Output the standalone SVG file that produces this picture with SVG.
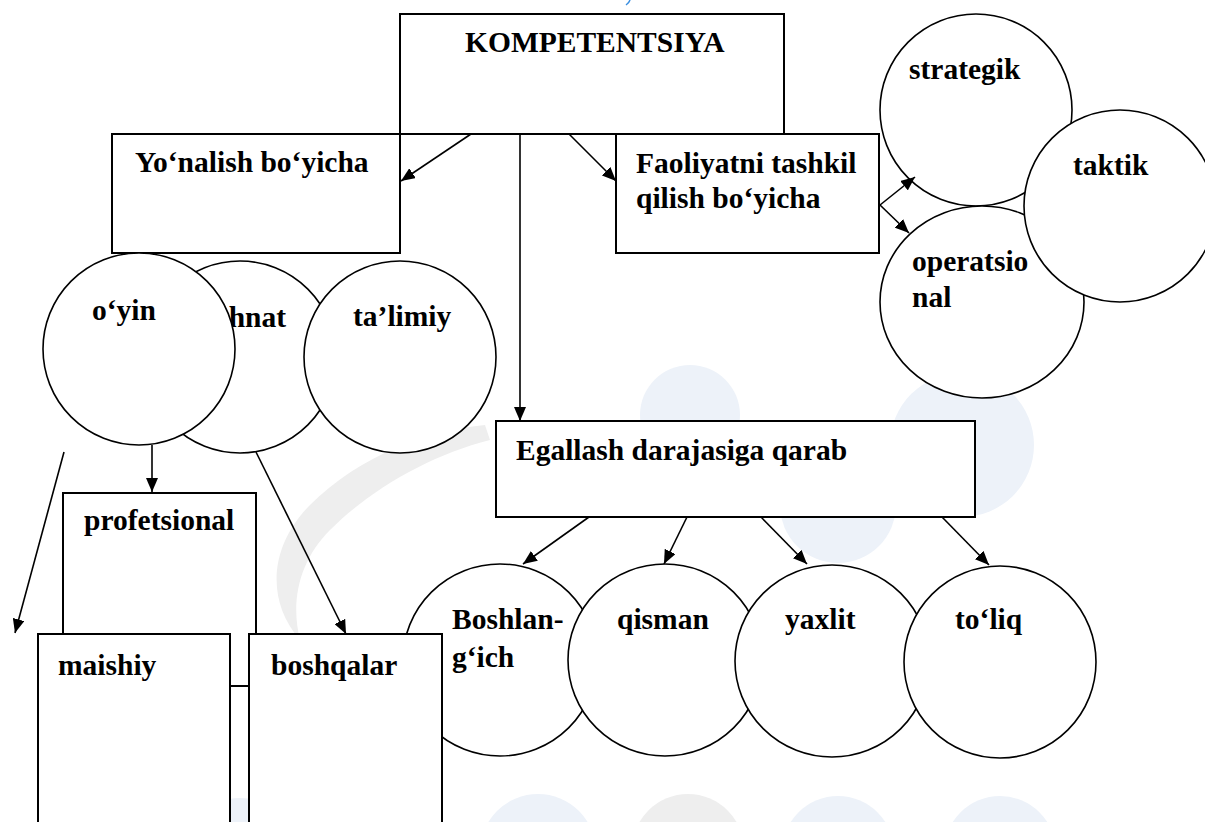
<svg xmlns="http://www.w3.org/2000/svg" width="1205" height="822" viewBox="0 0 1205 822">
<style>
.box{fill:#fff;stroke:#000;stroke-width:2}
.cir{fill:#fff;stroke:#000;stroke-width:1.6}
.t{font-family:"Liberation Serif","Times New Roman",serif;font-weight:bold;font-size:29.5px;fill:#000}
.ln{stroke:#000;stroke-width:1.6;fill:none}
.arr{stroke:#000;stroke-width:1.6;fill:none;marker-end:url(#ah)}
.wb{fill:#edf2f9}
.wg{fill:#eeeeee}
</style>
<defs>
<marker id="ah" markerUnits="userSpaceOnUse" markerWidth="14" markerHeight="12" refX="14" refY="6" orient="auto">
<path d="M0,0 L14,6 L0,12 z" fill="#000"/>
</marker>
</defs>
<rect width="1205" height="822" fill="#fff"/>
<g id="watermark">
<circle class="wb" cx="690" cy="415" r="50"/>
<circle class="wb" cx="962" cy="445" r="72"/>
<circle class="wb" cx="838" cy="505" r="58"/>
<path class="wg" d="M485,425 C430,430 360,455 310,505 C270,545 265,600 300,640 C290,600 300,560 330,530 C370,490 430,455 490,440 Z"/>
<circle class="wb" cx="538" cy="852" r="58"/>
<circle class="wg" cx="688" cy="850" r="56"/>
<circle class="wb" cx="838" cy="852" r="56"/>
<circle class="wb" cx="1000" cy="852" r="56"/>
<circle class="wb" cx="240" cy="858" r="60"/>
<path d="M630,0 Q629,3 626,5" stroke="#3a8ee0" stroke-width="1.5" fill="none"/>
</g>
<g id="kompetentsiya">
<rect class="box" x="400" y="14" width="384" height="120"/>
<text class="t" x="465" y="52">KOMPETENTSIYA</text>
</g>
<g id="yonalish">
<rect class="box" x="112" y="134" width="288" height="119"/>
<text class="t" x="135" y="172">Yo‘nalish bo‘yicha</text>
</g>
<g id="faoliyat">
<rect class="box" x="616" y="134" width="263" height="119"/>
<text class="t" x="636" y="173">Faoliyatni tashkil</text>
<text class="t" x="636" y="208">qilish bo‘yicha</text>
</g>
<g id="strategik">
<ellipse class="cir" cx="976" cy="110" rx="96" ry="96"/>
<text class="t" x="909" y="79">strategik</text>
</g>
<g id="operatsional">
<ellipse class="cir" cx="982" cy="302" rx="102" ry="96"/>
<text class="t" x="912" y="271">operatsio</text>
<text class="t" x="912" y="307">nal</text>
</g>
<g id="taktik">
<ellipse class="cir" cx="1120" cy="206" rx="96" ry="96"/>
<text class="t" x="1073" y="175">taktik</text>
</g>
<g id="mehnat">
<ellipse class="cir" cx="240" cy="357" rx="96" ry="96"/>
<text class="t" x="191" y="327">mehnat</text>
</g>
<g id="talimiy">
<ellipse class="cir" cx="400" cy="357" rx="96" ry="96"/>
<text class="t" x="353" y="326">ta’limiy</text>
</g>
<g id="oyin">
<ellipse class="cir" cx="139" cy="349" rx="96" ry="96"/>
<text class="t" x="92" y="320">o‘yin</text>
</g>
<g id="profetsional">
<rect class="box" x="63" y="493" width="193" height="193"/>
<text class="t" x="84" y="530">profetsional</text>
</g>
<g id="boshlangich">
<ellipse class="cir" cx="500" cy="660" rx="97" ry="96"/>
<text class="t" x="452" y="629">Boshlan-</text>
<text class="t" x="452" y="667">g‘ich</text>
</g>
<g id="qisman">
<ellipse class="cir" cx="665" cy="660" rx="97" ry="96"/>
<text class="t" x="617" y="629">qisman</text>
</g>
<g id="yaxlit">
<ellipse class="cir" cx="832" cy="661" rx="97" ry="96"/>
<text class="t" x="785" y="629">yaxlit</text>
</g>
<g id="toliq">
<ellipse class="cir" cx="1000" cy="662" rx="96" ry="96"/>
<text class="t" x="955" y="629">to‘liq</text>
</g>
<g id="maishiy">
<rect class="box" x="38" y="634" width="192" height="200"/>
<text class="t" x="58" y="675">maishiy</text>
</g>
<g id="boshqalar">
<rect class="box" x="249" y="634" width="193" height="200"/>
<text class="t" x="271" y="675">boshqalar</text>
</g>
<g id="egallash">
<rect class="box" x="496" y="421" width="479" height="96"/>
<text class="t" x="516" y="460">Egallash darajasiga qarab</text>
</g>
<g id="connectors">
<line class="arr" x1="471" y1="134" x2="401" y2="181"/>
<line class="arr" x1="520" y1="134" x2="520" y2="421"/>
<line class="arr" x1="569" y1="134" x2="616" y2="181"/>
<line class="arr" x1="880" y1="205" x2="915" y2="177"/>
<line class="arr" x1="880" y1="205" x2="909" y2="233"/>
<line class="arr" x1="152" y1="445" x2="152" y2="492"/>
<line class="arr" x1="64" y1="452" x2="15" y2="633"/>
<line class="arr" x1="256" y1="452" x2="346" y2="634"/>
<line class="arr" x1="589" y1="517" x2="523" y2="564"/>
<line class="arr" x1="687" y1="517" x2="664" y2="564"/>
<line class="arr" x1="761" y1="517" x2="807" y2="564"/>
<line class="arr" x1="942" y1="517" x2="989" y2="565"/>
</g>
</svg>
